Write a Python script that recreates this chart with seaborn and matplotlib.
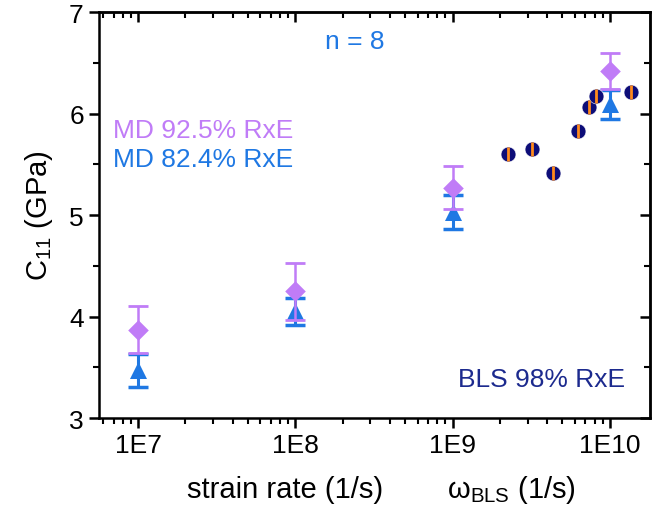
import numpy as np
import matplotlib
matplotlib.use("Agg")
import matplotlib.pyplot as plt
import seaborn as sns
import pandas as pd

# MD simulations (strain rate, 1/s)
md_rate = [1e7, 1e8, 1e9, 1e10]
md925_c11 = [3.87, 4.25, 5.27, 6.42]
md925_err = [0.23, 0.28, 0.21, 0.18]
md824_c11 = [3.47, 4.05, 5.03, 6.09]
md824_err = [0.16, 0.13, 0.17, 0.14]

# BLS measurements (frequency, 1/s)
bls_freq = [2.24e9, 3.21e9, 4.37e9, 6.3e9, 7.36e9, 8.16e9, 1.355e10]
bls_c11 = [5.60, 5.655, 5.41, 5.825, 6.06, 6.17, 6.21]

xticks = [1e7, 1e8, 1e9, 1e10]
xtick_labels = ["1E7", "1E8", "1E9", "1E10"]

violet = "#c07cf7"
blue = "#1f78e3"
navy = "#0d0d78"
orange = "#ff8a1c"
textnavy = "#1c2a8e"

sns.set_style("ticks")
plt.rcParams["font.family"] = ["Liberation Sans", "DejaVu Sans"]
plt.rcParams["text.color"] = "black"
plt.rcParams["axes.labelcolor"] = "black"
plt.rcParams["xtick.color"] = "black"
plt.rcParams["ytick.color"] = "black"

fig = plt.figure(figsize=(6.58, 5.10), dpi=100)
ax = fig.add_axes([0.1505, 0.1784, 0.8373, 0.7961])

md_a = pd.DataFrame({"rate": md_rate, "c11": md824_c11})
md_b = pd.DataFrame({"rate": md_rate, "c11": md925_c11})
bls = pd.DataFrame({"freq": bls_freq, "c11": bls_c11})

# 82.4% RxE
ax.errorbar(md_rate, md824_c11, yerr=md824_err, fmt="none", ecolor=blue,
            elinewidth=2.2, capsize=7, capthick=2.5, zorder=2)
sns.scatterplot(data=md_a, x="rate", y="c11", marker="^", s=150, color=blue,
                edgecolor=blue, linewidth=0, ax=ax, zorder=3)
# 92.5% RxE
ax.errorbar(md_rate, md925_c11, yerr=md925_err, fmt="none", ecolor=violet,
            elinewidth=1.8, capsize=7, capthick=2.0, zorder=4)
sns.scatterplot(data=md_b, x="rate", y="c11", marker="D", s=110, color=violet,
                edgecolor=violet, linewidth=0, ax=ax, zorder=5)
# BLS
sns.scatterplot(data=bls, x="freq", y="c11", marker="o", s=115, color=navy,
                edgecolor="white", linewidth=0.4, ax=ax, zorder=6)
sns.scatterplot(data=bls, x="freq", y="c11", marker="|", s=110, color=orange,
                linewidth=2.0, ax=ax, zorder=7)

ax.set_xscale("log")
ax.set_xlim(5.65e6, 1.8e10)
ax.set_ylim(3, 7)
ax.set_xticks(xticks)
ax.set_xticklabels(xtick_labels)
ax.set_yticks([3, 4, 5, 6, 7])
ax.yaxis.set_minor_locator(matplotlib.ticker.MultipleLocator(0.5))
ax.xaxis.set_minor_locator(matplotlib.ticker.LogLocator(base=10, subs=np.arange(2, 10)))
ax.xaxis.set_minor_formatter(matplotlib.ticker.NullFormatter())

for sp in ax.spines.values():
    sp.set_linewidth(1.8)
    sp.set_color("black")
ax.tick_params(which="major", direction="out", length=7, width=1.8, labelsize=19, pad=4,
               top=False, right=False)
ax.tick_params(which="minor", direction="out", length=4, width=1.5, top=False, right=False)

# mirrored ticks pointing inwards on top and right
top = ax.secondary_xaxis("top")
top.set_xticks(xticks)
top.xaxis.set_minor_locator(matplotlib.ticker.LogLocator(base=10, subs=np.arange(2, 10)))
top.tick_params(which="major", direction="in", length=7, width=1.8, labeltop=False)
top.tick_params(which="minor", direction="in", length=4, width=1.5)
right = ax.secondary_yaxis("right")
right.set_yticks([3, 4, 5, 6, 7])
right.yaxis.set_minor_locator(matplotlib.ticker.MultipleLocator(0.5))
right.tick_params(which="major", direction="in", length=7, width=1.8, labelright=False)
right.tick_params(which="minor", direction="in", length=4, width=1.5)
for s in (top, right):
    for sp in s.spines.values():
        sp.set_linewidth(1.8)

ax.set_xlabel("")
ax.set_ylabel(r"C$_{\mathregular{11}}$ (GPa)", fontsize=21, labelpad=10)

fig.text(0.433, 0.039, "strain rate (1/s)", fontsize=21, ha="center", va="center")
fig.text(0.778, 0.039, r"$\mathregular{ω_{BLS}}$ (1/s)", fontsize=21, ha="center", va="center")

ax.text(0.465, 0.929, "n = 8", color=blue, fontsize=19, ha="center", va="center", transform=ax.transAxes)
ax.text(0.025, 0.709, "MD 92.5% RxE", color=violet, fontsize=19, ha="left", va="center", transform=ax.transAxes)
ax.text(0.025, 0.638, "MD 82.4% RxE", color=blue, fontsize=19, ha="left", va="center", transform=ax.transAxes)
ax.text(0.955, 0.096, "BLS 98% RxE", color=textnavy, fontsize=19, ha="right", va="center", transform=ax.transAxes)

fig.savefig("out.png", dpi=100)
